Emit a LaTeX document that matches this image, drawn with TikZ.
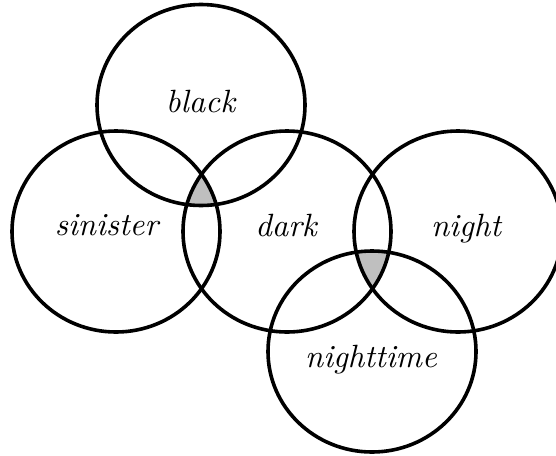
\documentclass[tikz,border=0pt]{standalone}
\begin{document}
\begin{tikzpicture}[x=1pt,y=-1pt,
  ring/.style={draw=black,line width=3.6pt},
  overlap/.style={fill=black!25},
  word/.style={anchor=base,inner sep=0pt,scale=3.22,font=\fontsize{10}{12}\selectfont\itshape}]
\useasboundingbox (0,0) rectangle (556,455);
\coordinate (cBlack) at (201,105);
\coordinate (cSin) at (116,231.5);
\coordinate (cDark) at (287,231.5);
\coordinate (cNight) at (458,231.5);
\coordinate (cTime) at (372,351.5);
\def\rx{104pt}
\def\ry{100.5pt}
% shaded triple intersections
\begin{scope}
  \clip (cBlack) ellipse [x radius=\rx, y radius=\ry];
  \clip (cSin) ellipse [x radius=\rx, y radius=\ry];
  \fill[overlap] (cDark) ellipse [x radius=\rx, y radius=\ry];
\end{scope}
\begin{scope}
  \clip (cDark) ellipse [x radius=\rx, y radius=\ry];
  \clip (cNight) ellipse [x radius=\rx, y radius=\ry];
  \fill[overlap] (cTime) ellipse [x radius=\rx, y radius=\ry];
\end{scope}
% circles
\draw[ring] (cBlack) ellipse [x radius=\rx, y radius=\ry];
\draw[ring] (cSin) ellipse [x radius=\rx, y radius=\ry];
\draw[ring] (cDark) ellipse [x radius=\rx, y radius=\ry];
\draw[ring] (cNight) ellipse [x radius=\rx, y radius=\ry];
\draw[ring] (cTime) ellipse [x radius=\rx, y radius=\ry];
% labels
\node[word] (tBlack) at (200.5,112.5) {black};
\node[word] (tSin) at (106.5,235) {sinister};
\node[word] (tDark) at (286,236) {dark};
\node[word] (tNight) at (466,236) {night};
\node[word] (tTime) at (371,367) {nighttime};
\end{tikzpicture}
\end{document}
